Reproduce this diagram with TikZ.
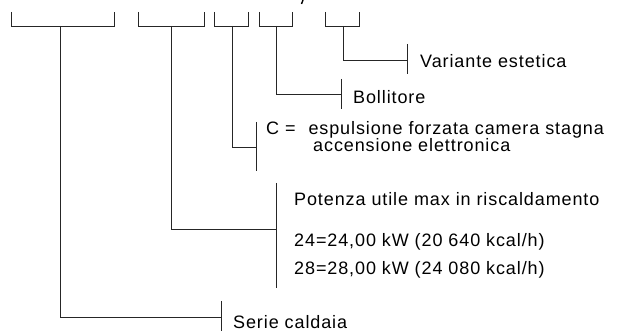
\documentclass[tikz,border=0pt]{standalone}
\usepackage{fontspec}
\setmainfont{Liberation Sans}[LetterSpace=5]
\usetikzlibrary{calc,positioning}

\tikzset{lbl/.style={anchor=base west,inner sep=0pt,font=\fontsize{18}{16}\selectfont},
  ln/.style={line width=0.8pt,black!85}}

\begin{document}
\begin{tikzpicture}[x=1pt,y=-1pt]
\useasboundingbox (0,0) rectangle (619,331);
% code brackets at the top
\foreach \a/\b/\m/\n in {11/114/60/b1,138/204/171/b2,214/248/232/b3,259/292/276/b4,325/359/343/b5}{
  \draw[ln] (\a,12) -- (\a,26) -- (\b,26) -- (\b,12); \coordinate (\n) at (\m,26);}
\draw[line width=1.4pt] (303,0) -- (301.5,4);
% labels
\node[lbl] (var) at (420,68) {Variante estetica};
\node[lbl] (boll) at (353,104) {Bollitore};
\node[lbl,align=left] (cam) at (266,152) {C =\hspace{7pt} espulsione forzata camera stagna\\\hspace*{47pt}accensione elettronica};
\node[lbl] (pot) at (294,206) {Potenza utile max in riscaldamento};
\node[lbl] (p24) at (294,247) {24=24,00 kW (20 640 kcal/h)};
\node[lbl] (p28) at (294,275) {28=28,00 kW (24 080 kcal/h)};
\node[lbl] (serie) at (233,328) {Serie caldaia};
% tick bars
\coordinate (t5) at (407,60); \coordinate (t4) at (341,94); \coordinate (t3) at (256,147);
\coordinate (t2) at (276,229); \coordinate (t1) at (221,317);
\draw[ln] (b5) |- (t5); \draw[ln] ($(t5)+(0,-16)$) -- ($(t5)+(0,14)$);
\draw[ln] (b4) |- (t4); \draw[ln] ($(t4)+(0,-15)$) -- ($(t4)+(0,15)$);
\draw[ln] (b3) |- (t3); \draw[ln] ($(t3)+(0,-25)$) -- ($(t3)+(0,24)$);
\draw[ln] (b2) |- (t2); \draw[ln] ($(t2)+(0,-46)$) -- ($(t2)+(0,59)$);
\draw[ln] (b1) |- (t1); \draw[ln] ($(t1)+(0,-16)$) -- (221,331);
\end{tikzpicture}
\end{document}
